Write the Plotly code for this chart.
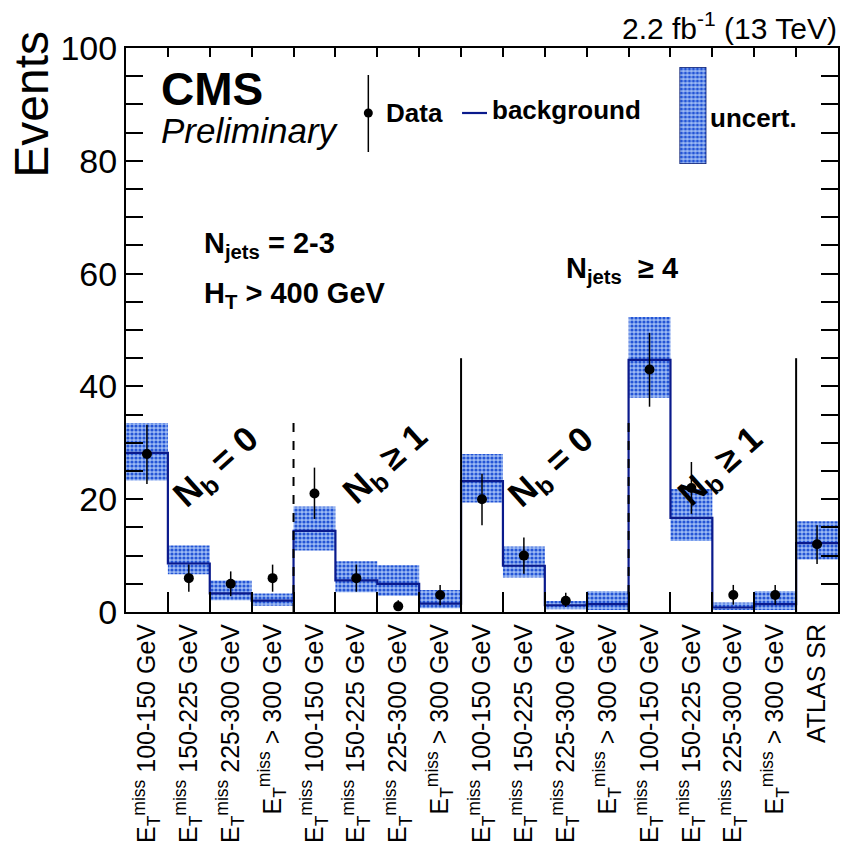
import plotly.graph_objects as go

# ---------------- data ----------------
bin_labels = [
    "100-150 GeV", "150-225 GeV", "225-300 GeV", "> 300 GeV",
    "100-150 GeV", "150-225 GeV", "225-300 GeV", "> 300 GeV",
    "100-150 GeV", "150-225 GeV", "225-300 GeV", "> 300 GeV",
    "100-150 GeV", "150-225 GeV", "225-300 GeV", "> 300 GeV",
]
last_label = "ATLAS SR"

data_counts = [28, 6, 5, 6, 21, 6, 1, 3, 20, 10, 2, 0, 43, 22, 3, 3, 12]
data_err_up = [5.2, 2.4, 2.2, 2.4, 4.6, 2.4, 1.1, 1.8, 4.5, 3.2, 1.4, 0, 6.5, 4.6, 1.8, 1.8, 3.4]
data_err_dn = [5.3, 2.4, 2.2, 2.4, 4.5, 2.4, 0.8, 1.8, 4.6, 3.2, 1.1, 0, 6.6, 4.6, 1.7, 1.7, 3.5]

background = [28.2, 8.6, 3.3, 2.0, 14.4, 5.6, 5.0, 1.5, 23.2, 8.2, 1.2, 1.4, 44.7, 16.7, 0.8, 1.4, 12.2]
unc_low = [23.3, 6.7, 2.1, 1.1, 10.9, 3.5, 2.9, 0.65, 19.4, 6.1, 0.5, 0.35, 38.0, 12.6, 0.35, 0.35, 9.3]
unc_high = [33.5, 11.8, 5.6, 3.3, 18.7, 9.0, 8.3, 3.9, 28.0, 11.6, 1.95, 3.7, 52.3, 21.8, 1.7, 3.7, 16.1]

# region separators: (bin edge, height, dashed?)
separators = [(4, 34.4, True), (8, 45.0, False), (12, 34.4, True), (16, 45.0, False)]

# ---------------- derived ----------------
nb = len(background)
edges = list(range(nb + 1))
centers = [i + 0.5 for i in range(nb)]
ticktext = ["E<sub>T</sub><sup>miss</sup> " + l for l in bin_labels] + [last_label]

FONT = "Liberation Sans"
W, H = 842, 846
L, R, T, B = 126, 842 - 840, 48, 846 - 612
PW, PH = W - L - R, H - T - B


def px(x):
    return (x - L) / PW


def py(y):
    return (H - B - y) / PH


BAND_PATTERN = dict(shape=".", fgcolor="#2455d6", bgcolor="#9dbbf4",
                    size=4, solidity=0.5, fillmode="replace")

fig = go.Figure()

# uncertainty band
fig.add_trace(go.Bar(
    x=centers, base=unc_low,
    y=[h - l for h, l in zip(unc_high, unc_low)],
    width=1.0,
    marker=dict(color="#9dbbf4", line=dict(width=0), pattern=BAND_PATTERN),
    showlegend=False, hoverinfo="skip",
))

# background step histogram
step_x = edges
step_y = background + [background[-1]]
fig.add_trace(go.Scatter(
    x=step_x, y=step_y, mode="lines", line_shape="hv",
    line=dict(color="#0a1a8c", width=2.2), showlegend=False, hoverinfo="skip",
))

# data points
dx, dy, eu, ed = [], [], [], []
for c, v, u, d in zip(centers, data_counts, data_err_up, data_err_dn):
    if v > 0:
        dx.append(c); dy.append(v); eu.append(u); ed.append(d)
fig.add_trace(go.Scatter(
    x=dx, y=dy, mode="markers",
    marker=dict(color="black", size=10),
    error_y=dict(type="data", symmetric=False, array=eu, arrayminus=ed,
                 color="black", thickness=1.5, width=0),
    showlegend=False, hoverinfo="skip",
))

# top-axis helper trace (invisible) so xaxis2 is drawn
fig.add_trace(go.Scatter(x=[0.5], y=[0], xaxis="x2", mode="markers",
                         marker=dict(opacity=0), showlegend=False, hoverinfo="skip"))

# legend uncertainty box
fig.add_trace(go.Bar(
    x=[0], y=[1], width=1.0, xaxis="x3", yaxis="y3",
    marker=dict(color="#9dbbf4", line=dict(width=1.5, color="#0a1a6c"),
                pattern=BAND_PATTERN),
    showlegend=False, hoverinfo="skip",
))

shapes = []
for xe, hgt, dashed in separators:
    shapes.append(dict(type="line", xref="x", yref="y", x0=xe, x1=xe, y0=0, y1=hgt,
                       line=dict(color="black", width=2, dash="dash" if dashed else "solid"),
                       layer="above"))

# legend: data marker + error bar
shapes.append(dict(type="line", xref="paper", yref="paper",
                   x0=px(369), x1=px(369), y0=py(75), y1=py(152),
                   line=dict(color="black", width=1.5)))
shapes.append(dict(type="circle", xref="paper", yref="paper",
                   x0=px(364.5), x1=px(373.5), y0=py(117.5), y1=py(108.5),
                   fillcolor="black", line=dict(color="black", width=0)))
# legend: background line
shapes.append(dict(type="line", xref="paper", yref="paper",
                   x0=px(463), x1=px(488), y0=py(113), y1=py(113),
                   line=dict(color="#0a1a8c", width=2.2)))

annotations = []


def ann(text, x, y, size, xanchor="left", yanchor="middle", angle=0):
    annotations.append(dict(text=text, x=x, y=y, xref="paper", yref="paper",
                            xanchor=xanchor, yanchor=yanchor, showarrow=False,
                            textangle=angle, borderpad=0,
                            font=dict(family=FONT, size=size, color="black")))


ann("Events", px(31), py(30), 48, xanchor="center", yanchor="top", angle=-90)
ann("2.2 fb<sup>-1</sup> (13 TeV)", 1.0, py(26), 30, xanchor="right")
ann("<b>CMS</b>", px(160), py(89), 46)
ann("<i>Preliminary</i>", px(160), py(130), 35)
ann("<b>Data</b>", px(386), py(113), 26)
ann("<b>background</b>", px(492), py(110), 26)
ann("<b>uncert.</b>", px(711), py(118), 26)
ann("<b>N<sub>jets</sub> = 2-3</b>", px(203), py(245), 29)
ann("<b>H<sub>T</sub> &gt; 400 GeV</b>", px(203), py(295), 29)
ann("<b>N<sub>jets</sub>  ≥ 4</b>", px(566), py(270), 29)
for cx, cy, t in [(217, 468, "<b>N<sub>b</sub> = 0</b>"), (387, 465, "<b>N<sub>b</sub> ≥ 1</b>"),
                  (553, 468, "<b>N<sub>b</sub> = 0</b>"), (723, 467, "<b>N<sub>b</sub> ≥ 1</b>")]:
    ann(t, px(cx), py(cy), 35, xanchor="center", yanchor="middle", angle=-42)

fig.update_layout(
    width=W, height=H,
    margin=dict(l=L, r=R, t=T, b=B, pad=0),
    paper_bgcolor="white", plot_bgcolor="white",
    font=dict(family=FONT, color="black"),
    barmode="overlay",
    showlegend=False,
    shapes=shapes,
    annotations=annotations,
    xaxis=dict(range=[0, nb], tickmode="array", tickvals=centers, ticktext=ticktext,
               tickangle=-90, ticks="", showline=True, linecolor="black", linewidth=2,
               mirror=True, showgrid=False, zeroline=False,
               tickfont=dict(family=FONT, size=25, color="black"),
               minor=dict(tickmode="array", tickvals=edges[1:-1], ticks="inside",
                          ticklen=20, tickwidth=1.5, tickcolor="black", showgrid=False)),
    xaxis2=dict(range=[0, nb], overlaying="x", side="top", tickmode="array",
                tickvals=edges[1:-1], ticks="inside", ticklen=9, tickwidth=1.5,
                tickcolor="black", showticklabels=False, showline=False,
                showgrid=False, zeroline=False),
    yaxis=dict(range=[0, 100], tickmode="linear", tick0=0, dtick=20,
               ticks="inside", ticklen=17, tickwidth=1.5, tickcolor="black",
               showline=True, linecolor="black", linewidth=2, mirror="allticks",
               showgrid=False, zeroline=False,
               tickfont=dict(family=FONT, size=34, color="black"),
               minor=dict(dtick=5, tick0=0, ticks="inside", ticklen=9, tickwidth=1.5,
                          tickcolor="black", showgrid=False)),
    xaxis3=dict(domain=[px(681), px(708)], range=[-0.5, 0.5], visible=False,
                anchor="y3"),
    yaxis3=dict(domain=[py(164), py(67)], range=[0, 1], visible=False, anchor="x3"),
)

fig.write_html("out.html")
